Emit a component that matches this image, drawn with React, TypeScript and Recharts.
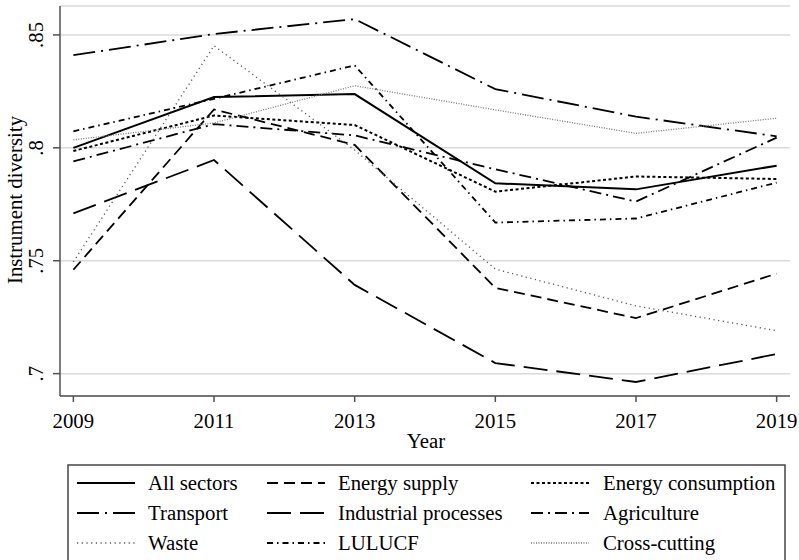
import React from 'react';
import { LineChart, Line, XAxis, YAxis, CartesianGrid } from 'recharts';

const years = [2009, 2011, 2013, 2015, 2017, 2019];
const allSectors = [0.8, 0.8225, 0.8238, 0.7843, 0.7816, 0.7921];
const energySupply = [0.746, 0.817, 0.8013, 0.738, 0.7246, 0.7443];
const energyConsumption = [0.7986, 0.8143, 0.8101, 0.7806, 0.7873, 0.7862];
const transport = [0.841, 0.8504, 0.857, 0.826, 0.8138, 0.8051];
const industrialProcesses = [0.771, 0.7946, 0.7393, 0.7047, 0.6963, 0.7087];
const agriculture = [0.794, 0.8105, 0.8055, 0.7905, 0.7762, 0.8045];
const waste = [0.7495, 0.8452, 0.799, 0.7463, 0.73, 0.719];
const lulucf = [0.8073, 0.8217, 0.8365, 0.7669, 0.7687, 0.7846];
const crossCutting = [0.8035, 0.811, 0.8275, 0.8168, 0.8064, 0.8131];

const xTicks = [2009, 2011, 2013, 2015, 2017, 2019];
const yTicks = [0.7, 0.75, 0.8, 0.85];

const series = [
  { key: 'allSectors', name: 'All sectors', values: allSectors, dash: undefined as string | undefined, color: '#000', width: 2 },
  { key: 'energySupply', name: 'Energy supply', values: energySupply, dash: '11 6', color: '#000', width: 1.8 },
  { key: 'energyConsumption', name: 'Energy consumption', values: energyConsumption, dash: '3 2.5', color: '#000', width: 2 },
  { key: 'transport', name: 'Transport', values: transport, dash: '22 6 2 6', color: '#000', width: 1.8 },
  { key: 'industrialProcesses', name: 'Industrial processes', values: industrialProcesses, dash: '24 9', color: '#000', width: 1.8 },
  { key: 'agriculture', name: 'Agriculture', values: agriculture, dash: '12 5 2 5', color: '#000', width: 1.8 },
  { key: 'waste', name: 'Waste', values: waste, dash: '1.2 3.5', color: '#555', width: 1.3 },
  { key: 'lulucf', name: 'LULUCF', values: lulucf, dash: '6 4 1.5 4', color: '#000', width: 1.8 },
  { key: 'crossCutting', name: 'Cross-cutting', values: crossCutting, dash: '1 1.5', color: '#777', width: 1.3 },
];

const data = years.map((year, i) => {
  const row: Record<string, number> = { year };
  series.forEach((s) => {
    row[s.key] = s.values[i];
  });
  return row;
});

const FONT = "'Liberation Serif', 'Times New Roman', Times, 'Nimbus Roman', 'DejaVu Serif', serif";
const AXIS = '#505050';
const textStyle = { fontFamily: FONT, fontSize: 20.8 };

const fmtY = (v: number) => String(v).replace(/^0/, '');

const YTick = (props: any) => {
  const { y, payload } = props;
  return (
    <text x={43} y={y} transform={`rotate(-90, 43, ${y})`} textAnchor="middle" style={textStyle} fill="#000">
      {fmtY(payload.value)}
    </text>
  );
};

const XTick = (props: any) => {
  const { x, payload } = props;
  return (
    <text x={x} y={428} textAnchor="middle" style={textStyle} fill="#000">
      {payload.value}
    </text>
  );
};

const legendCols = [
  { lineX: 77, textX: 148 },
  { lineX: 267, textX: 338 },
  { lineX: 531, textX: 603 },
];
const legendRows = [483, 513, 543];

export default function App() {
  return (
    <div style={{ position: 'absolute', left: 0, top: 0, width: 799, height: 560, background: '#fff', fontFamily: FONT }}>
      <LineChart width={799} height={560} data={data} margin={{ top: 6, right: 9, left: 0, bottom: 0 }}>
        <CartesianGrid horizontal vertical={false} stroke="#dadada" strokeWidth={1.5} />
        <XAxis
          dataKey="year"
          type="number"
          domain={[2008.81, 2019.19]}
          ticks={xTicks}
          allowDataOverflow
          height={164}
          tickSize={6}
          stroke={AXIS}
          strokeWidth={1.5}
          tickLine={{ stroke: AXIS, strokeWidth: 1.5 }}
          tick={<XTick />}
          label={() => (
            <text x={426} y={448} textAnchor="middle" style={textStyle} fill="#000">
              Year
            </text>
          )}
        />
        <YAxis
          type="number"
          domain={[0.6901, 0.8628]}
          ticks={yTicks}
          allowDataOverflow
          width={60}
          tickSize={7}
          stroke={AXIS}
          strokeWidth={1.5}
          tickLine={{ stroke: AXIS, strokeWidth: 1.5 }}
          tick={<YTick />}
          label={() => (
            <text x={22} y={200} transform="rotate(-90, 22, 200)" textAnchor="middle" style={textStyle} fill="#000">
              Instrument diversity
            </text>
          )}
        />
        {series.map((s) => (
          <Line
            key={s.key}
            dataKey={s.key}
            name={s.name}
            type="linear"
            stroke={s.color}
            strokeWidth={s.width}
            strokeDasharray={s.dash}
            dot={false}
            activeDot={false}
            isAnimationActive={false}
          />
        ))}
      </LineChart>
      <svg width={799} height={560} style={{ position: 'absolute', left: 0, top: 0, pointerEvents: 'none' }}>
        <rect x={68} y={465} width={717} height={100} fill="none" stroke="#444" strokeWidth={1.5} />
        {series.map((s, i) => {
          const col = legendCols[i % 3];
          const rowY = legendRows[Math.floor(i / 3)];
          return (
            <g key={s.key}>
              <line x1={col.lineX} x2={col.lineX + 58} y1={rowY} y2={rowY} stroke={s.color} strokeWidth={s.width} strokeDasharray={s.dash} />
              <text x={col.textX} y={rowY + 7} style={textStyle} fill="#000">
                {s.name}
              </text>
            </g>
          );
        })}
      </svg>
    </div>
  );
}
